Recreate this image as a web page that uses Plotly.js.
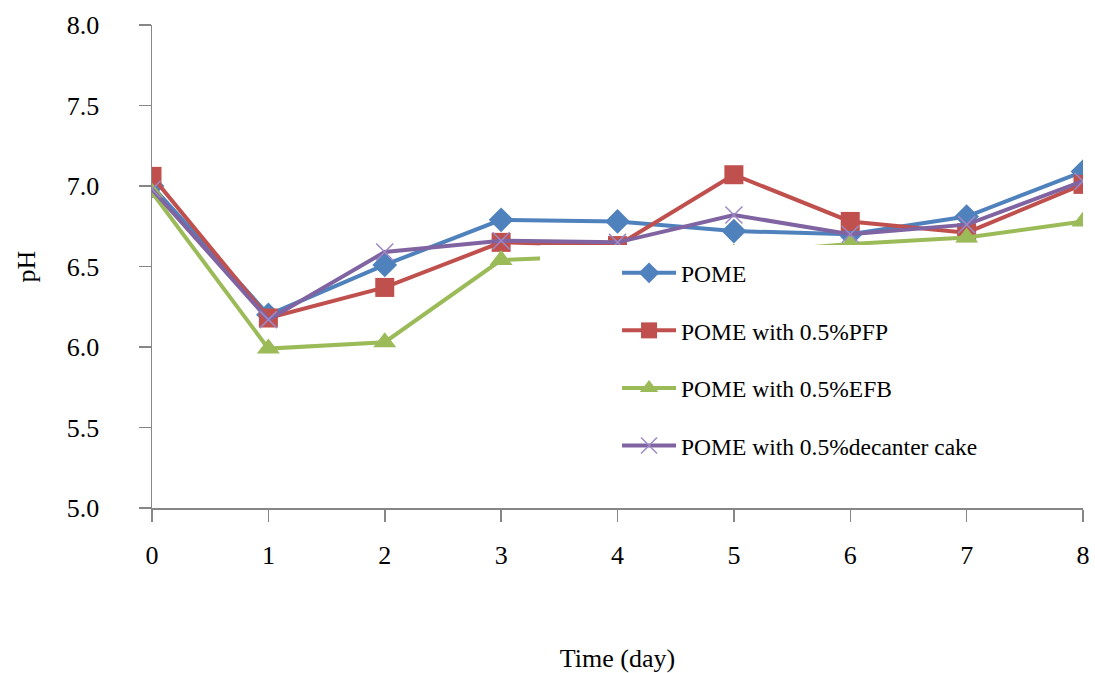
<!DOCTYPE html>
<html>
<head>
<meta charset="utf-8">
<script src="https://cdn.plot.ly/plotly-3.0.1.min.js"></script>
<style>html,body{margin:0;padding:0;background:#fff;}#chart{width:1095px;height:673px;}</style>
</head>
<body>
<div id="chart"></div>
<script>
const days = [0, 1, 2, 3, 4, 5, 6, 7, 8];
const pome = [7.00, 6.20, 6.51, 6.79, 6.78, 6.72, 6.70, 6.81, 7.09];
const pomePFP = [7.06, 6.18, 6.37, 6.65, 6.63, 7.07, 6.78, 6.71, 7.01];
const pomeEFB = [6.96, 5.99, 6.03, 6.54, 6.57, 6.58, 6.64, 6.68, 6.78];
const pomeDecanter = [6.98, 6.17, 6.59, 6.66, 6.65, 6.82, 6.70, 6.76, 7.03];
const seriesNames = ["POME", "POME with 0.5%PFP", "POME with 0.5%EFB", "POME with 0.5%decanter cake"];
const yTicks = [5.0, 5.5, 6.0, 6.5, 7.0, 7.5, 8.0];

const fontFam = "Liberation Serif, Times New Roman, serif";

function tr(y, name, color, symbol, size, extra) {
  return Object.assign({
    x: days, y: y, name: name, type: "scatter", mode: "lines+markers",
    legendgroup: name,
    line: {color: color, width: 4},
    marker: {symbol: symbol, size: size, color: color}
  }, extra || {});
}

const data = [
  tr(pome, seriesNames[0], "#4F81BD", "diamond", 19),
  tr(pomePFP, seriesNames[1], "#C0504D", "square", 19),
  tr(pomeEFB, seriesNames[2], "#9BBB59", "triangle-up", 20),
  tr(pomeDecanter, seriesNames[3], "#8064A2", "x-thin", 17, {marker: {symbol: "x-thin", size: 17, color: "#8064A2", line: {color: "#9C88C4", width: 1.5}}})
];

const layout = {
  width: 1095, height: 673,
  margin: {l: 152, r: 12, t: 25, b: 165},
  paper_bgcolor: "#fff", plot_bgcolor: "#fff",
  font: {family: fontFam, color: "#000", size: 26},
  showlegend: true,
  legend: {
    x: 0.4995, y: 0.532, xanchor: "left", yanchor: "top",
    bgcolor: "rgba(0,0,0,0)",
    font: {family: fontFam, size: 23.5, color: "#000"},
    tracegroupgap: 24,
    itemwidth: 54
  },
  xaxis: {
    range: [0, 8], tickvals: days, ticktext: days.map(String),
    showgrid: false, zeroline: false,
    showline: true, linecolor: "#868686", linewidth: 1.5,
    ticks: "outside", ticklen: 12, tickcolor: "#868686", tickwidth: 1.5,
    ticklabelstandoff: 11,
    tickfont: {family: fontFam, size: 26},
    title: {text: "Time (day)", font: {family: fontFam, size: 26}, standoff: 82}
  },
  yaxis: {
    range: [5, 8], tickvals: yTicks, ticktext: yTicks.map(v => v.toFixed(1)),
    showgrid: false, zeroline: false,
    showline: true, linecolor: "#868686", linewidth: 1.5,
    ticks: "outside", ticklen: 12, tickcolor: "#868686", tickwidth: 1.5,
    ticklabelstandoff: 34,
    tickfont: {family: fontFam, size: 26},
    title: {text: "pH", font: {family: fontFam, size: 26}, standoff: 23}
  },
  shapes: [{
    type: "rect", xref: "paper", yref: "paper", layer: "above",
    x0: 0.4168, x1: 0.90, y0: 0.08, y1: 0.5445,
    fillcolor: "#fff", line: {width: 0}
  }]
};

Plotly.newPlot("chart", data, layout, {displayModeBar: false, staticPlot: true});
</script>
</body>
</html>
